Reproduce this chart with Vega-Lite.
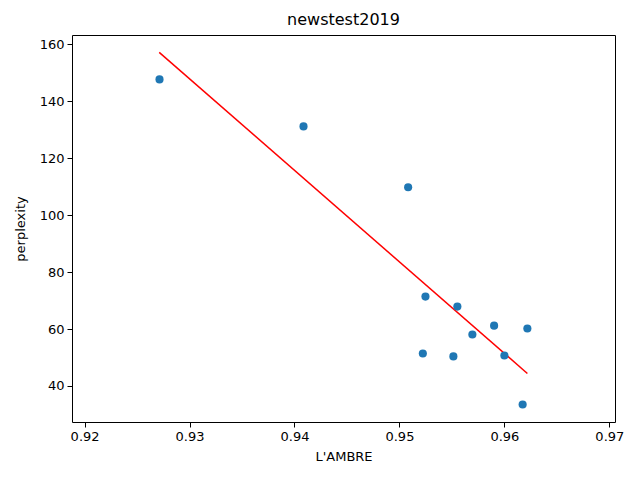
{
  "$schema": "https://vega.github.io/schema/vega-lite/v6.json",
  "autosize": "none",
  "padding": {"left": 72, "top": 35, "right": 25, "bottom": 58},
  "width": 543,
  "height": 387,
  "background": "white",
  "title": {"text": "newstest2019", "fontSize": 16, "fontWeight": "normal", "font": "DejaVu Sans", "offset": 7, "color": "#000"},
  "config": {
    "view": {"stroke": "#000", "strokeWidth": 1},
    "axis": {
      "grid": false,
      "domain": false,
      "tickColor": "#000",
      "tickSize": 5,
      "labelFont": "DejaVu Sans",
      "labelFontSize": 13,
      "labelColor": "#000",
      "labelPadding": 3,
      "titleFont": "DejaVu Sans",
      "titleFontSize": 13,
      "titleFontWeight": "normal",
      "titleColor": "#000"
    }
  },
  "datasets": {
    "points": [
      {"lambre": 0.92714, "perplexity": 147.7},
      {"lambre": 0.94086, "perplexity": 131.2},
      {"lambre": 0.95083, "perplexity": 109.8},
      {"lambre": 0.95248, "perplexity": 71.4},
      {"lambre": 0.95552, "perplexity": 67.9},
      {"lambre": 0.95902, "perplexity": 61.2},
      {"lambre": 0.96219, "perplexity": 60.2},
      {"lambre": 0.95695, "perplexity": 58.1},
      {"lambre": 0.95223, "perplexity": 51.4},
      {"lambre": 0.95514, "perplexity": 50.4},
      {"lambre": 0.96, "perplexity": 50.7},
      {"lambre": 0.96174, "perplexity": 33.5}
    ],
    "fit": [
      {"lambre": 0.92711, "perplexity": 157.2},
      {"lambre": 0.96219, "perplexity": 44.4}
    ]
  },
  "layer": [
    {
      "data": {"name": "fit"},
      "mark": {"type": "line", "color": "#ff0000", "strokeWidth": 1.5},
      "encoding": {
        "x": {"field": "lambre", "type": "quantitative"},
        "y": {"field": "perplexity", "type": "quantitative"}
      }
    },
    {
      "data": {"name": "points"},
      "mark": {"type": "point", "filled": true, "opacity": 1, "color": "#1f77b4", "size": 66},
      "encoding": {
        "x": {
          "field": "lambre",
          "type": "quantitative",
          "title": "L'AMBRE",
          "scale": {"domain": [0.9188, 0.97054], "nice": false, "zero": false},
          "axis": {"values": [0.92, 0.93, 0.94, 0.95, 0.96, 0.97], "format": ".2f", "titlePadding": 7}
        },
        "y": {
          "field": "perplexity",
          "type": "quantitative",
          "title": "perplexity",
          "scale": {"domain": [27.35, 163.3], "nice": false, "zero": false},
          "axis": {"values": [40, 60, 80, 100, 120, 140, 160], "titlePadding": 12}
        }
      }
    }
  ]
}
